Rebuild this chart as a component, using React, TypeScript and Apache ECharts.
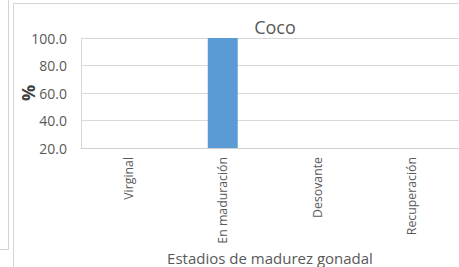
import React, { useEffect, useRef } from "react";
import * as echarts from "echarts";

const title = "Coco";
const categories = ["Virginal", "En maduración", "Desovante", "Recuperación"];
const values = [0, 100, 0, null];
const yTicks = [20, 40, 60, 80, 100];
const xName = "Estadios de madurez gonadal";
const yName = "%";

export default function App() {
  const ref = useRef<HTMLDivElement>(null);
  useEffect(() => {
    const chart = echarts.init(ref.current!, null, { renderer: "svg" });
    const font = "'Open Sans', 'Liberation Sans', sans-serif";
    chart.setOption({
      animation: false,
      backgroundColor: "#ffffff",
      title: {
        text: title,
        left: 270,
        top: 13,
        textAlign: "center",
        textStyle: { fontFamily: font, fontSize: 18, fontWeight: "normal", color: "#595959" },
      },
      grid: { left: 81, top: 38, width: 385, height: 110, containLabel: false },
      xAxis: {
        type: "category",
        data: categories,
        name: xName,
        nameLocation: "middle",
        nameGap: 102,
        nameTextStyle: { fontFamily: font, fontSize: 15, color: "#595959" },
        axisLine: { show: true, lineStyle: { color: "#d0d0d0", width: 1 } },
        axisTick: { show: false },
        axisLabel: {
          rotate: 90,
          interval: 0,
          margin: 9,
          fontFamily: font,
          fontSize: 12.3,
          color: "#595959",
        },
      },
      yAxis: {
        type: "value",
        min: yTicks[0],
        max: yTicks[yTicks.length - 1],
        interval: 20,
        name: yName,
        nameLocation: "middle",
        nameGap: 44,
        nameRotate: 90,
        nameMoveOverlap: false,
        nameTextStyle: { fontFamily: font, fontSize: 18, fontWeight: "bold", color: "#404040" },
        axisLine: { show: true, lineStyle: { color: "#d9d9d9" } },
        axisTick: { show: false },
        splitLine: { show: true, lineStyle: { color: "#d9d9d9" } },
        axisLabel: {
          margin: 14,
          fontFamily: font,
          fontSize: 14,
          color: "#595959",
          formatter: (v: number) => v.toFixed(1),
        },
      },
      series: [
        {
          type: "bar",
          data: values,
          barWidth: 30,
          itemStyle: { color: "#5b9bd5" },
          clip: true,
        },
      ],
      graphic: [
        { type: "line", shape: { x1: 8.5, y1: 0, x2: 8.5, y2: 249.5 }, style: { stroke: "#d4d4d4", lineWidth: 1 } },
        { type: "line", shape: { x1: 0, y1: 249.5, x2: 8.5, y2: 249.5 }, style: { stroke: "#d4d4d4", lineWidth: 1 } },
        { type: "line", shape: { x1: 13.5, y1: 3, x2: 13.5, y2: 267 }, style: { stroke: "#d4d4d4", lineWidth: 1 } },
        { type: "line", shape: { x1: 13.5, y1: 3.5, x2: 459, y2: 3.5 }, style: { stroke: "#d4d4d4", lineWidth: 1 } },
      ],
    });
    return () => chart.dispose();
  }, []);
  return (
    <div
      ref={ref}
      style={{ position: "fixed", left: 0, top: 0, width: 459, height: 267 }}
    />
  );
}
